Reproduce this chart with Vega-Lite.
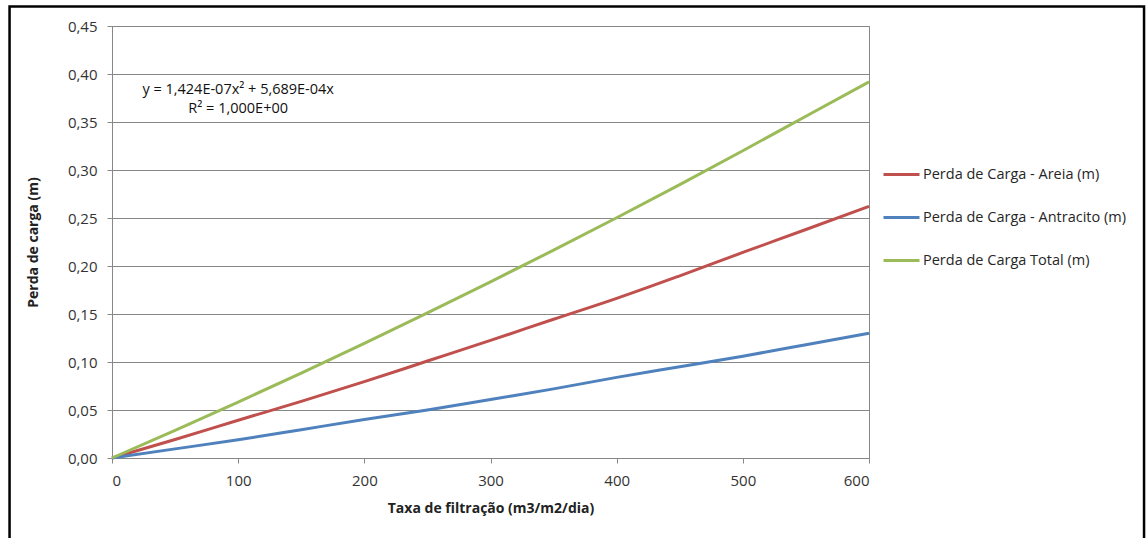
{
  "$schema": "https://vega.github.io/schema/vega-lite/v6.json",
  "width": 757,
  "height": 432,
  "autosize": {"type": "none"},
  "padding": {"left": 112, "top": 26, "right": 277, "bottom": 80},
  "background": "white",
  "config": {
    "font": "Open Sans",
    "view": {"stroke": "#878787", "strokeWidth": 1},
    "axis": {
      "gridColor": "#878787", "gridOpacity": 1, "gridWidth": 1,
      "domainColor": "#878787", "tickColor": "#878787", "tickSize": 5,
      "labelFont": "Open Sans", "labelFontSize": 15, "labelColor": "#333333",
      "titleFont": "Open Sans", "titleFontSize": 14, "titleFontWeight": "bold", "titleColor": "#222222"
    }
  },
  "datasets": {
    "series": [
      {"taxa": 0, "serie": "Perda de Carga - Areia (m)", "perda": 0},
      {"taxa": 50, "serie": "Perda de Carga - Areia (m)", "perda": 0.0193},
      {"taxa": 100, "serie": "Perda de Carga - Areia (m)", "perda": 0.0393},
      {"taxa": 150, "serie": "Perda de Carga - Areia (m)", "perda": 0.059},
      {"taxa": 200, "serie": "Perda de Carga - Areia (m)", "perda": 0.0795},
      {"taxa": 250, "serie": "Perda de Carga - Areia (m)", "perda": 0.101},
      {"taxa": 300, "serie": "Perda de Carga - Areia (m)", "perda": 0.1225},
      {"taxa": 350, "serie": "Perda de Carga - Areia (m)", "perda": 0.1445},
      {"taxa": 400, "serie": "Perda de Carga - Areia (m)", "perda": 0.1663},
      {"taxa": 450, "serie": "Perda de Carga - Areia (m)", "perda": 0.1898},
      {"taxa": 500, "serie": "Perda de Carga - Areia (m)", "perda": 0.2141},
      {"taxa": 550, "serie": "Perda de Carga - Areia (m)", "perda": 0.238},
      {"taxa": 600, "serie": "Perda de Carga - Areia (m)", "perda": 0.2622},
      {"taxa": 0, "serie": "Perda de Carga - Antracito (m)", "perda": 0},
      {"taxa": 50, "serie": "Perda de Carga - Antracito (m)", "perda": 0.0095},
      {"taxa": 100, "serie": "Perda de Carga - Antracito (m)", "perda": 0.019},
      {"taxa": 150, "serie": "Perda de Carga - Antracito (m)", "perda": 0.0295},
      {"taxa": 200, "serie": "Perda de Carga - Antracito (m)", "perda": 0.040},
      {"taxa": 250, "serie": "Perda de Carga - Antracito (m)", "perda": 0.050},
      {"taxa": 300, "serie": "Perda de Carga - Antracito (m)", "perda": 0.061},
      {"taxa": 350, "serie": "Perda de Carga - Antracito (m)", "perda": 0.072},
      {"taxa": 400, "serie": "Perda de Carga - Antracito (m)", "perda": 0.084},
      {"taxa": 450, "serie": "Perda de Carga - Antracito (m)", "perda": 0.095},
      {"taxa": 500, "serie": "Perda de Carga - Antracito (m)", "perda": 0.106},
      {"taxa": 550, "serie": "Perda de Carga - Antracito (m)", "perda": 0.118},
      {"taxa": 600, "serie": "Perda de Carga - Antracito (m)", "perda": 0.130},
      {"taxa": 0, "serie": "Perda de Carga Total (m)", "perda": 0},
      {"taxa": 50, "serie": "Perda de Carga Total (m)", "perda": 0.0288},
      {"taxa": 100, "serie": "Perda de Carga Total (m)", "perda": 0.0583},
      {"taxa": 150, "serie": "Perda de Carga Total (m)", "perda": 0.0885},
      {"taxa": 200, "serie": "Perda de Carga Total (m)", "perda": 0.1195},
      {"taxa": 250, "serie": "Perda de Carga Total (m)", "perda": 0.1511},
      {"taxa": 300, "serie": "Perda de Carga Total (m)", "perda": 0.1835},
      {"taxa": 350, "serie": "Perda de Carga Total (m)", "perda": 0.2165},
      {"taxa": 400, "serie": "Perda de Carga Total (m)", "perda": 0.2503},
      {"taxa": 450, "serie": "Perda de Carga Total (m)", "perda": 0.2848},
      {"taxa": 500, "serie": "Perda de Carga Total (m)", "perda": 0.3201},
      {"taxa": 550, "serie": "Perda de Carga Total (m)", "perda": 0.356},
      {"taxa": 600, "serie": "Perda de Carga Total (m)", "perda": 0.3918}
    ],
    "anotacao": [
      {"linha": "equacao", "texto": "y = 1,424E-07x² + 5,689E-04x"},
      {"linha": "r2", "texto": "R² = 1,000E+00"}
    ]
  },
  "layer": [
    {
      "data": {"name": "series"},
      "mark": {"type": "line", "strokeWidth": 3, "interpolate": "monotone"},
      "encoding": {
        "x": {
          "field": "taxa", "type": "quantitative",
          "scale": {"domain": [0, 600], "nice": false, "zero": false},
          "axis": {
            "title": "Taxa de filtração (m3/m2/dia)",
            "values": [0, 100, 200, 300, 400, 500, 600],
            "grid": false, "labelPadding": 10, "titlePadding": 13
          }
        },
        "y": {
          "field": "perda", "type": "quantitative",
          "scale": {"domain": [0, 0.45], "nice": false, "zero": false},
          "axis": {
            "title": "Perda de carga  (m)",
            "values": [0, 0.05, 0.1, 0.15, 0.2, 0.25, 0.3, 0.35, 0.4, 0.45],
            "labelExpr": "replace(format(datum.value, '.2f'), '.', ',')",
            "labelPadding": 10, "titlePadding": 27
          }
        },
        "color": {
          "field": "serie", "type": "nominal",
          "scale": {
            "domain": ["Perda de Carga - Areia (m)", "Perda de Carga - Antracito (m)", "Perda de Carga Total (m)"],
            "range": ["#C0504D", "#4F81BD", "#9BBB59"]
          },
          "legend": {
            "title": null, "orient": "none", "legendX": 770, "legendY": 129,
            "padding": 0, "symbolType": "stroke", "symbolSize": 1296, "symbolStrokeWidth": 3,
            "rowPadding": 17, "labelOffset": 2, "labelFont": "Open Sans", "labelFontSize": 14.5,
            "labelColor": "#262626", "labelLimit": 300
          }
        }
      }
    },
    {
      "data": {"name": "anotacao"},
      "transform": [{"filter": "datum.linha === 'equacao'"}],
      "mark": {"type": "text", "font": "Open Sans", "fontSize": 14.5, "color": "#111111", "align": "center", "baseline": "middle"},
      "encoding": {
        "text": {"field": "texto"},
        "x": {"datum": 100, "type": "quantitative"},
        "y": {"datum": 0.3833, "type": "quantitative"}
      }
    },
    {
      "data": {"name": "anotacao"},
      "transform": [{"filter": "datum.linha === 'r2'"}],
      "mark": {"type": "text", "font": "Open Sans", "fontSize": 14.5, "color": "#111111", "align": "center", "baseline": "middle"},
      "encoding": {
        "text": {"field": "texto"},
        "x": {"datum": 100, "type": "quantitative"},
        "y": {"datum": 0.3632, "type": "quantitative"}
      }
    },
    {
      "data": {"values": [{"moldura": "borda"}]},
      "mark": {"type": "rect", "fill": null, "stroke": "black", "strokeWidth": 2.5},
      "encoding": {
        "x": {"datum": -81.2, "type": "quantitative"},
        "x2": {"datum": 818},
        "y": {"datum": 0.4704, "type": "quantitative"},
        "y2": {"datum": -0.2}
      }
    }
  ]
}
